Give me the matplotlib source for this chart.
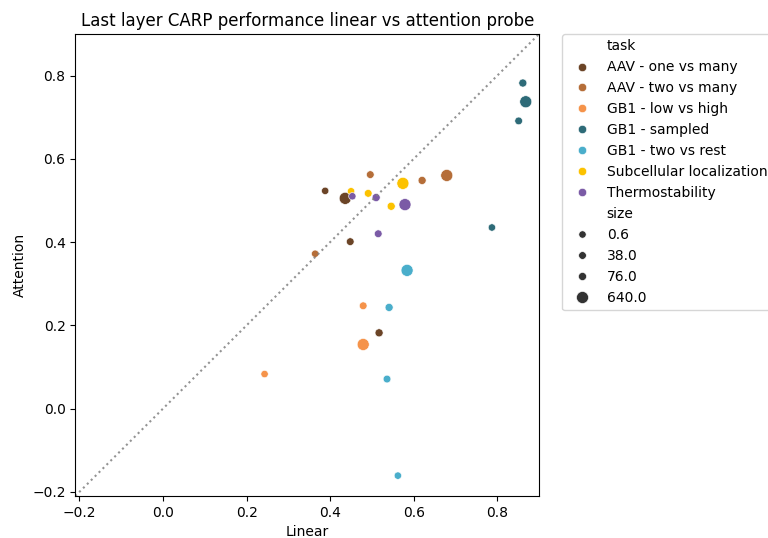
import pandas as pd
import matplotlib
matplotlib.use("Agg")
import matplotlib.pyplot as plt
import seaborn as sns

tasks = ["AAV - one vs many", "AAV - two vs many", "GB1 - low vs high", "GB1 - sampled",
         "GB1 - two vs rest", "Subcellular localization", "Thermostability"]
colors = ["#6b4427", "#b56e39", "#f5934a", "#2e6b78", "#4aaecb", "#fcc200", "#7b5ba6"]

task = (["AAV - one vs many"] * 4 + ["AAV - two vs many"] * 4 + ["GB1 - low vs high"] * 3
        + ["GB1 - sampled"] * 4 + ["GB1 - two vs rest"] * 4
        + ["Subcellular localization"] * 4 + ["Thermostability"] * 4)
linear = [0.388, 0.448, 0.517, 0.436,
          0.364, 0.496, 0.620, 0.679,
          0.243, 0.479, 0.479,
          0.787, 0.851, 0.861, 0.868,
          0.562, 0.536, 0.541, 0.584,
          0.450, 0.491, 0.546, 0.574,
          0.453, 0.515, 0.510, 0.579]
attention = [0.523, 0.401, 0.182, 0.505,
             0.372, 0.562, 0.548, 0.560,
             0.083, 0.247, 0.154,
             0.435, 0.691, 0.782, 0.737,
             -0.161, 0.071, 0.243, 0.332,
             0.522, 0.517, 0.486, 0.541,
             0.510, 0.420, 0.507, 0.490]
size = [0.6, 38.0, 76.0, 640.0,
        0.6, 38.0, 76.0, 640.0,
        0.6, 38.0, 640.0,
        0.6, 38.0, 76.0, 640.0,
        0.6, 38.0, 76.0, 640.0,
        0.6, 38.0, 76.0, 640.0,
        0.6, 38.0, 76.0, 640.0]

df = pd.DataFrame({"task": task, "Linear": linear, "Attention": attention, "size": size})

fig, ax = plt.subplots(figsize=(7.68, 5.38), dpi=100)
fig.subplots_adjust(left=0.098, right=0.702, top=0.937, bottom=0.078)

lo, hi = -0.21, 0.90
ax.plot([lo, hi], [lo, hi], ":", color="gray", alpha=0.85)
sns.scatterplot(data=df, x="Linear", y="Attention", hue="task", size="size",
                hue_order=tasks, palette=dict(zip(tasks, colors)), sizes=(28, 75), ax=ax)
ax.set_xlim(lo, hi)
ax.set_ylim(lo, hi)
ax.set_title("Last layer CARP performance linear vs attention probe")
ax.legend(bbox_to_anchor=(1.05, 1), loc="upper left", borderaxespad=0)

fig.savefig("out.png")
